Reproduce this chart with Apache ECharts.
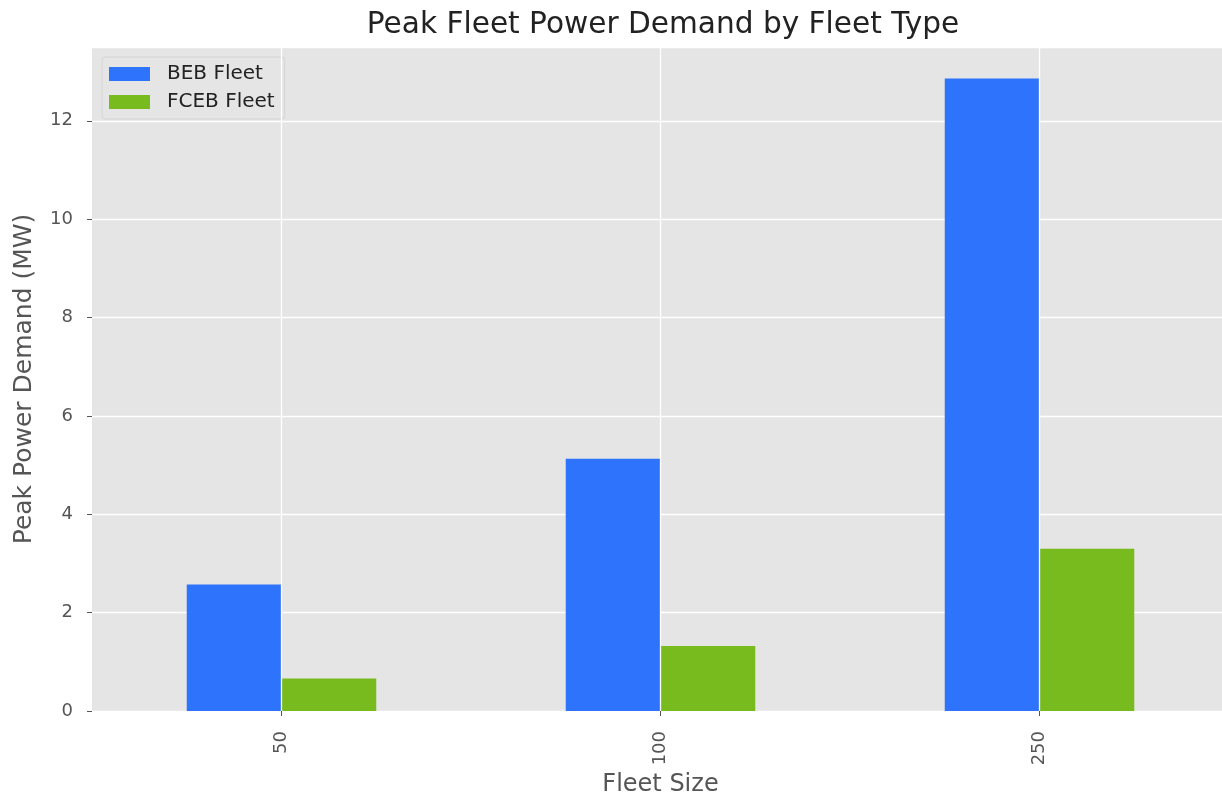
<!DOCTYPE html>
<html>
<head>
<meta charset="utf-8">
<script src="https://cdn.jsdelivr.net/npm/echarts@6/dist/echarts.min.js"></script>
<style>
html,body{margin:0;padding:0;background:#fff;}
#chart{width:1222px;height:797px;}
</style>
</head>
<body>
<div id="chart"></div>
<script>
const categories = ['50', '100', '250'];
const bebFleet = [2.57, 5.13, 12.86];
const fcebFleet = [0.66, 1.32, 3.30];
const seriesNames = ['BEB Fleet', 'FCEB Fleet'];
const yTicks = [0, 2, 4, 6, 8, 10, 12];

const chart = echarts.init(document.getElementById('chart'), null, {renderer: 'canvas'});
const font = 'DejaVu Sans';
chart.setOption({
  backgroundColor: '#ffffff',
  animation: false,
  title: {
    text: 'Peak Fleet Power Demand by Fleet Type',
    left: 658, top: 5, textAlign: 'center',
    textStyle: {fontFamily: font, fontSize: 29.6, fontWeight: 'normal', color: '#222'}
  },
  legend: {
    data: seriesNames,
    orient: 'vertical',
    left: 102, top: 57,
    padding: [7, 10, 7, 7],
    itemWidth: 41, itemHeight: 14, itemGap: 8,
    icon: 'rect',
    backgroundColor: '#e5e5e5',
    borderColor: '#d4d4d4', borderWidth: 1, borderRadius: 3,
    textStyle: {fontFamily: font, fontSize: 20, color: '#222', padding: [0, 0, 0, 12]}
  },
  grid: {
    left: 92, width: 1137, top: 47, bottom: 86,
    outerBoundsMode: 'none', containLabel: false,
    show: true, backgroundColor: '#e5e5e5', borderWidth: 0
  },
  xAxis: {
    type: 'category',
    data: categories,
    name: 'Fleet Size',
    nameLocation: 'middle',
    nameGap: 60,
    nameTextStyle: {fontFamily: font, fontSize: 24, color: '#555'},
    axisLine: {show: false},
    axisTick: {show: true, alignWithLabel: true, length: 5, lineStyle: {color: '#555'}},
    axisLabel: {rotate: 90, margin: 20, fontFamily: font, fontSize: 18, color: '#555'},
    splitLine: {show: false}
  },
  yAxis: {
    type: 'value',
    min: 0, max: 13.5, interval: 2,
    name: 'Peak Power Demand (MW)',
    nameLocation: 'middle',
    nameGap: 55,
    nameTextStyle: {fontFamily: font, fontSize: 25, color: '#555'},
    axisLine: {show: false},
    axisTick: {show: true, length: 5, lineStyle: {color: '#555'}},
    axisLabel: {
      margin: 19, fontFamily: font, fontSize: 18, color: '#555', showMaxLabel: false,
      formatter: v => yTicks.includes(v) ? String(v) : ''
    },
    splitLine: {show: true, lineStyle: {color: '#ffffff', width: 1.3}}
  },
  series: [
    {
      name: 'grid-x', type: 'line', data: [], z: 1, silent: true,
      markLine: {
        silent: true, symbol: 'none', label: {show: false},
        lineStyle: {color: '#ffffff', width: 1.3, type: 'solid'},
        data: categories.map(c => ({xAxis: c}))
      }
    },
    {
      name: seriesNames[0], type: 'bar', data: bebFleet, z: 3,
      barWidth: '25%', barGap: '0%',
      itemStyle: {color: '#2e73fc'}
    },
    {
      name: seriesNames[1], type: 'bar', data: fcebFleet, z: 3,
      barWidth: '25%', barGap: '0%',
      itemStyle: {color: '#77bb1f'}
    }
  ]
});
</script>
</body>
</html>
